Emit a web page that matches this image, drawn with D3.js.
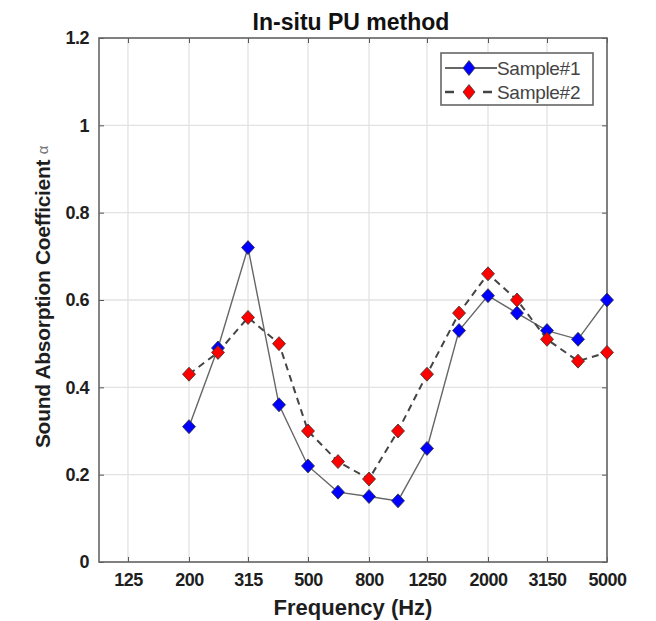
<!DOCTYPE html>
<html>
<head>
<meta charset="utf-8">
<script src="https://cdn.jsdelivr.net/npm/d3@7"></script>
<style>
  body { margin: 0; background: #fff; }
  text { font-family: "Liberation Sans", Arial, sans-serif; }
</style>
</head>
<body>
<svg id="chart"></svg>
<script>
var width = 656;
var height = 621;
var margin = {top: 38, right: 49, bottom: 59, left: 99};

// one-third octave band centres (Hz)
var freqs = [200, 250, 315, 400, 500, 630, 800, 1000, 1250, 1600, 2000, 2500, 3150, 4000, 5000];
var sample1 = [0.31, 0.49, 0.72, 0.36, 0.22, 0.16, 0.15, 0.14, 0.26, 0.53, 0.61, 0.57, 0.53, 0.51, 0.60];
var sample2 = [0.43, 0.48, 0.56, 0.50, 0.30, 0.23, 0.19, 0.30, 0.43, 0.57, 0.66, 0.60, 0.51, 0.46, 0.48];
var xTicks = [125, 200, 315, 500, 800, 1250, 2000, 3150, 5000];
var yTicks = [0, 0.2, 0.4, 0.6, 0.8, 1, 1.2];
var seriesNames = ['Sample#1', 'Sample#2'];

var series = [
  {name: seriesNames[0], values: sample1, fill: '#0000ff', dash: null, lw: 1.4, color: '#666'},
  {name: seriesNames[1], values: sample2, fill: '#ff0000', dash: '7,5', lw: 2, color: '#444'}
];

var svg = d3.select('#chart')
  .attr('width', width)
  .attr('height', height);

var xScale = d3.scaleLog()
  .domain([100, 5000])
  .range([margin.left, width - margin.right]);

var yScale = d3.scaleLinear()
  .domain([0, 1.2])
  .range([height - margin.bottom, margin.top]);

var plotW = width - margin.left - margin.right;
var plotH = height - margin.top - margin.bottom;

// grid
svg.append('g')
  .selectAll('line')
  .data(xTicks)
  .enter()
  .append('line')
    .attr('x1', d => xScale(d))
    .attr('x2', d => xScale(d))
    .attr('y1', margin.top)
    .attr('y2', height - margin.bottom)
    .attr('stroke', '#e2e2e2')
    .attr('stroke-width', 1.3);

svg.append('g')
  .selectAll('line')
  .data(yTicks)
  .enter()
  .append('line')
    .attr('x1', margin.left)
    .attr('x2', width - margin.right)
    .attr('y1', d => yScale(d))
    .attr('y2', d => yScale(d))
    .attr('stroke', '#e2e2e2')
    .attr('stroke-width', 1.3);

// axes (ticks pointing inward, MATLAB style)
var xAxis = svg.append('g')
  .attr('transform', `translate(0, ${height - margin.bottom})`)
  .call(d3.axisBottom(xScale)
    .tickValues(xTicks)
    .tickSize(-5)
    .tickSizeOuter(0)
    .tickPadding(11)
    .tickFormat(d3.format('d')));

var yAxis = svg.append('g')
  .attr('transform', `translate(${margin.left}, 0)`)
  .call(d3.axisLeft(yScale)
    .tickValues(yTicks)
    .tickSize(-5)
    .tickSizeOuter(0)
    .tickPadding(10)
    .tickFormat(d => String(+d.toFixed(1))));

[xAxis, yAxis].forEach(function(ax){
  ax.select('.domain').remove();
  ax.selectAll('line').attr('stroke', '#555');
  ax.selectAll('text')
    .attr('fill', '#1e1e1e')
    .style('font-size', '18px')
    .style('font-weight', 'bold')
    .style('letter-spacing', '-0.5px');
});

// mirrored ticks on top and right
svg.append('g')
  .attr('transform', `translate(0, ${margin.top})`)
  .call(d3.axisTop(xScale).tickValues(xTicks).tickSize(-5).tickSizeOuter(0).tickFormat(''))
  .call(g => g.select('.domain').remove())
  .selectAll('line').attr('stroke', '#555');

svg.append('g')
  .attr('transform', `translate(${width - margin.right}, 0)`)
  .call(d3.axisRight(yScale).tickValues(yTicks).tickSize(-5).tickSizeOuter(0).tickFormat(''))
  .call(g => g.select('.domain').remove())
  .selectAll('line').attr('stroke', '#555');

// box
svg.append('rect')
  .attr('x', margin.left)
  .attr('y', margin.top)
  .attr('width', plotW)
  .attr('height', plotH)
  .attr('fill', 'none')
  .attr('stroke', '#666')
  .attr('stroke-width', 1.6);

// lines
var line = d3.line()
  .x((d, i) => xScale(freqs[i]))
  .y(d => yScale(d));

series.forEach(function(s){
  svg.append('path')
    .datum(s.values)
    .attr('fill', 'none')
    .attr('stroke', s.color)
    .attr('stroke-width', s.lw)
    .attr('stroke-dasharray', s.dash)
    .attr('d', line);
});

function diamond(cx, cy, w, h){
  return `M${cx},${cy - h}L${cx + w},${cy}L${cx},${cy + h}L${cx - w},${cy}Z`;
}

series.forEach(function(s){
  svg.append('g')
    .selectAll('path')
    .data(s.values)
    .enter()
    .append('path')
      .attr('d', (d, i) => diamond(xScale(freqs[i]), yScale(d), 6.5, 7))
      .attr('fill', s.fill)
      .attr('stroke', '#333')
      .attr('stroke-width', 0.8);
});

// legend
var legend = svg.append('g');
legend.append('rect')
  .attr('x', 441)
  .attr('y', 53)
  .attr('width', 152)
  .attr('height', 52)
  .attr('fill', '#fff')
  .attr('stroke', '#666')
  .attr('stroke-width', 1.6);

series.forEach(function(s, i){
  var y = 68 + i * 24;
  legend.append('line')
    .attr('x1', 445)
    .attr('x2', 497)
    .attr('y1', y)
    .attr('y2', y)
    .attr('stroke', s.color)
    .attr('stroke-width', s.lw + 0.4)
    .attr('stroke-dasharray', s.dash ? '9,10' : null);
  legend.append('path')
    .attr('d', diamond(469, y, 6, 7.5))
    .attr('fill', s.fill)
    .attr('stroke', '#333')
    .attr('stroke-width', 0.8);
  legend.append('text')
    .attr('x', 497)
    .attr('y', y)
    .attr('dy', '0.36em')
    .attr('fill', '#444')
    .style('font-size', '19px')
    .style('letter-spacing', '-0.3px')
    .text(s.name);
});

// title
svg.append('text')
  .attr('x', 351)
  .attr('y', 30)
  .attr('text-anchor', 'middle')
  .attr('fill', '#111')
  .style('font-size', '23px')
  .style('font-weight', 'bold')
  .text('In-situ PU method');

// x label
svg.append('text')
  .attr('x', (margin.left + width - margin.right) / 2)
  .attr('y', 615)
  .attr('text-anchor', 'middle')
  .attr('fill', '#1e1e1e')
  .style('font-size', '22px')
  .style('font-weight', 'bold')
  .text('Frequency (Hz)');

// y label
var yLabel = svg.append('text')
  .attr('transform', 'rotate(-90)')
  .attr('x', -297)
  .attr('y', 50)
  .attr('text-anchor', 'middle')
  .attr('fill', '#1e1e1e')
  .style('font-size', '21px')
  .style('font-weight', 'bold')
  .style('letter-spacing', '-0.3px');
yLabel.append('tspan').text('Sound Absorption Coefficient ');
yLabel.append('tspan')
  .style('font-weight', 'normal')
  .style('font-size', '15px')
  .attr('fill', '#777')
  .attr('dy', -2)
  .text('α');
</script>
</body>
</html>
